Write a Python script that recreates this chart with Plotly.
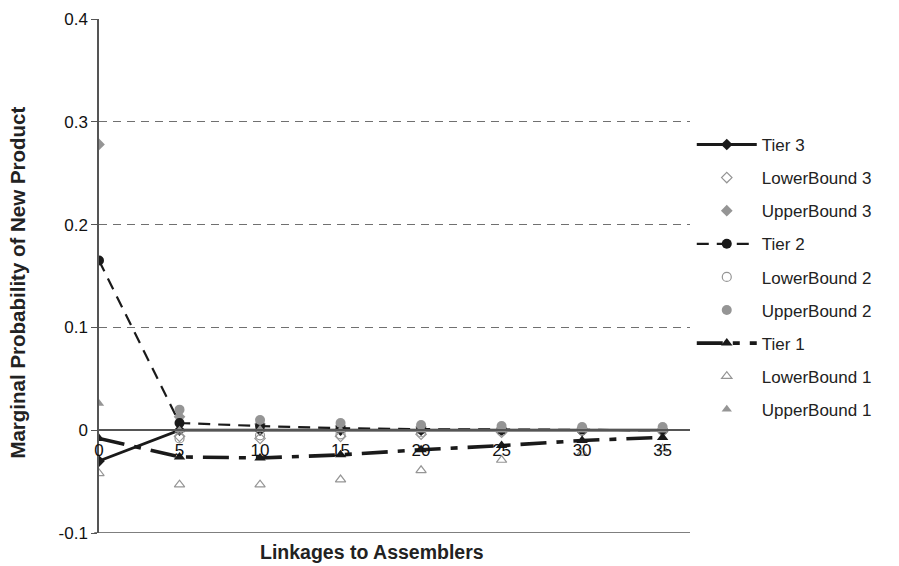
import plotly.graph_objects as go

linkages = [0, 5, 10, 15, 20, 25, 30, 35]

tier3 = [-0.030, 0.000, 0.000, 0.000, 0.000, 0.000, 0.000, 0.000]
lower3 = [None, -0.006, -0.008, -0.006, -0.004, -0.002, -0.001, -0.001]
upper3 = [0.278, 0.013, 0.006, 0.004, 0.003, 0.002, 0.002, 0.001]

tier2 = [0.165, 0.007, 0.004, 0.002, 0.001, 0.0005, 0.000, 0.000]
lower2 = [None, -0.008, -0.005, -0.004, -0.002, -0.001, 0.000, 0.000]
upper2 = [None, 0.020, 0.010, 0.007, 0.005, 0.004, 0.003, 0.003]

tier1 = [-0.008, -0.026, -0.027, -0.024, -0.019, -0.015, -0.010, -0.007]
lower1 = [-0.042, -0.053, -0.053, -0.048, -0.039, -0.029, -0.022, -0.018]
upper1 = [0.026, 0.000, 0.001, 0.000, 0.000, 0.000, 0.000, 0.000]

y_ticks = [-0.1, 0, 0.1, 0.2, 0.3, 0.4]
y_ticklabels = ["-0.1", "0", "0.1", "0.2", "0.3", "0.4"]
x_ticks = [0, 5, 10, 15, 20, 25, 30, 35]

BLACK = "#1a1a1a"
GRAY = "#959595"
FONT = "Liberation Sans, Arial, sans-serif"
FS = 17

fig = go.Figure()

def add(name, y, mode, symbol, color, size, dash=None, width=None, open_=False):
    line = dict(color=BLACK, width=width or 2, dash=dash or "solid")
    marker = dict(symbol=symbol + ("-open" if open_ else ""), size=size, color=color,
                  line=dict(color=color, width=1.2 if open_ else 0))
    fig.add_trace(go.Scatter(x=linkages, y=y, name=name, mode=mode, line=line,
                             marker=marker, legendgroup=name, connectgaps=False))

add("Tier 3", tier3, "lines+markers", "diamond", BLACK, 9, dash="solid", width=2.8)
add("LowerBound 3", lower3, "markers", "diamond", GRAY, 8, open_=True)
add("UpperBound 3", upper3, "markers", "diamond", GRAY, 9)
add("Tier 2", tier2, "lines+markers", "circle", BLACK, 10, dash="12px,8px", width=2.2)
add("LowerBound 2", lower2, "markers", "circle", GRAY, 9, open_=True)
add("UpperBound 2", upper2, "markers", "circle", GRAY, 10)
add("Tier 1", tier1, "lines+markers", "triangle-up", BLACK, 10, dash="26px,10px,7px,10px", width=3.6)
add("LowerBound 1", lower1, "markers", "triangle-up", GRAY, 9, open_=True)
add("UpperBound 1", upper1, "markers", "triangle-up", GRAY, 9)

fig.update_layout(
    width=899, height=566,
    margin=dict(l=99, r=209, t=19, b=33, autoexpand=False),
    paper_bgcolor="white", plot_bgcolor="white",
    font=dict(family=FONT, size=FS, color="#222222"),
    showlegend=True,
    legend=dict(x=1.003, y=0.79, xanchor="left", yanchor="top",
                font=dict(family=FONT, size=FS, color="#222222"),
                tracegroupgap=8, itemwidth=60, bgcolor="rgba(0,0,0,0)"),
    xaxis=dict(range=[0, 36.7], tickvals=x_ticks, ticktext=[str(v) for v in x_ticks],
               anchor="free", position=0.2, showline=True, linecolor="#555555", linewidth=1.5,
               showgrid=False, zeroline=False, ticks="", ticklabelstandoff=5, automargin=False,
               tickfont=dict(family=FONT, size=FS, color="#111111")),
    yaxis=dict(range=[-0.1, 0.4], tickvals=y_ticks, ticktext=y_ticklabels,
               showline=True, linecolor="#555555", linewidth=1.5, automargin=False,
               showgrid=True, gridcolor="#707070", griddash="8px,6px", gridwidth=1,
               zeroline=False, ticks="outside", ticklen=6, tickcolor="#555555",
               tickfont=dict(family=FONT, size=FS, color="#111111")),
    shapes=[dict(type="line", xref="paper", yref="y", x0=-0.008, x1=1, y0=-0.1, y1=-0.1,
                 line=dict(color="#555555", width=1.5), layer="above")],
    annotations=[
        dict(text="<b>Linkages to Assemblers</b>", xref="paper", yref="paper",
             x=0.462, y=-0.012, xanchor="center", yanchor="top", showarrow=False,
             font=dict(family=FONT, size=19.5, color="#222222")),
        dict(text="<b>Marginal Probability of New Product</b>", xref="paper", yref="paper",
             x=-0.138, y=0.488, xanchor="center", yanchor="middle", textangle=-90,
             showarrow=False, font=dict(family=FONT, size=20.5, color="#222222")),
    ],
)

fig.write_html("out.html", config={"displayModeBar": False},
               post_script="document.body.style.margin='0';")
